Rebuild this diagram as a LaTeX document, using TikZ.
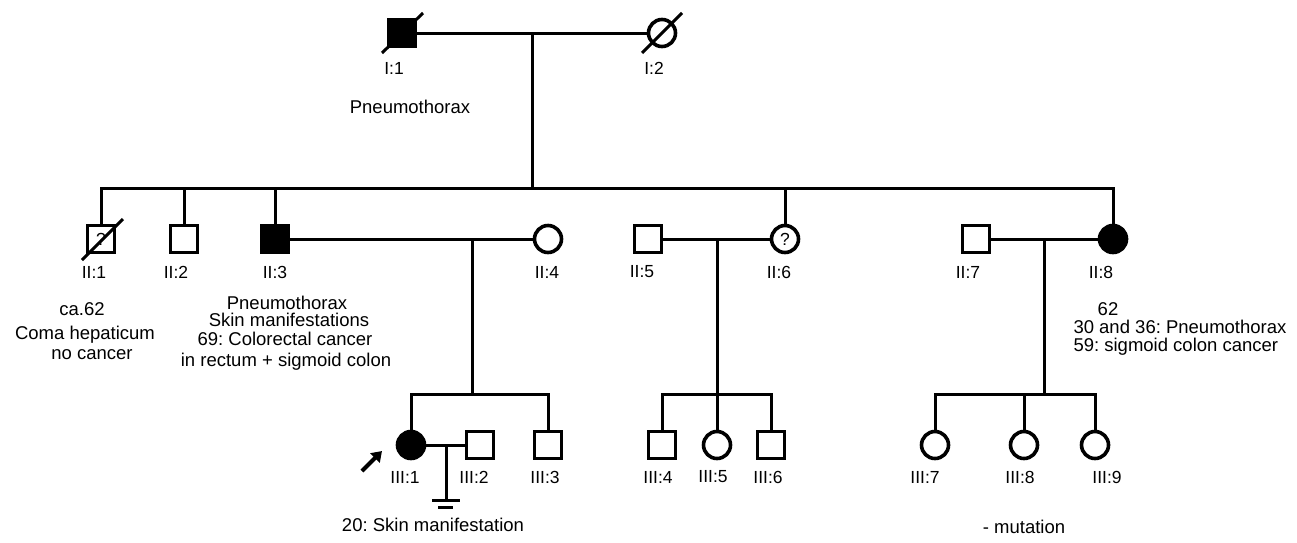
\documentclass[tikz,border=0pt]{standalone}
\usepackage{fontspec}
\setmainfont{Liberation Sans}
\usetikzlibrary{arrows.meta}
\frenchspacing
\begin{document}
\begin{tikzpicture}[x=1pt,y=-1pt,
  line width=3pt,
  ind/.style={draw,line width=3.6pt,minimum size=27pt,inner sep=0pt,fill=white,font=\fontsize{17.5}{17.5}\selectfont},
  male/.style={ind,rectangle},
  female/.style={ind,circle},
  aff/.style={fill=black},
  lab/.style={font=\fontsize{17.5}{17.5}\selectfont,inner sep=0pt},
  txt/.style={font=\fontsize{18.5}{19}\selectfont,inner sep=0pt},
  slash/.style={line width=3pt}]
\useasboundingbox (0,0) rectangle (1297,542);
% Generation I
\node[male,aff] (I1) at (402,33) {};
\node[female] (I2) at (662,33) {};
\draw[slash] ([shift={(-20,20)}]I1.center) -- ([shift={(21,-20)}]I1.center);
\draw[slash] ([shift={(-20,20)}]I2.center) -- ([shift={(20,-20)}]I2.center);
\node[lab] (lI1) at (394,68) {I:1};
\node[lab] (lI2) at (654,68) {I:2};
\node[txt] (tI1) at (410,107) {Pneumothorax};
\coordinate (m1) at (532,33);
\coordinate (s1) at (532,188);
\draw (I1) -- (I2);
\draw (m1) -- (s1);
% Generation II
\node[male] (II1) at (101,239) {?};
\node[male] (II2) at (184,239) {};
\node[male,aff] (II3) at (275,239) {};
\node[female] (II4) at (548,239) {};
\node[male] (II5) at (648,239) {};
\node[female] (II6) at (785,239) {?};
\node[male] (II7) at (976,239) {};
\node[female,aff] (II8) at (1113,239) {};
\draw[slash] ([shift={(-19,21)}]II1.center) -- ([shift={(22,-20)}]II1.center);
\draw (II1.north) -- (II1.north |- s1) -- (II8.north |- s1) -- (II8.north);
\draw (II2.north) -- (II2.north |- s1);
\draw (II3.north) -- (II3.north |- s1);
\draw (II6.north) -- (II6.north |- s1);
\draw (II3) -- (II4);
\draw (II5) -- (II6);
\draw (II7) -- (II8);
\node[lab] (lII1) at (94,272) {II:1};
\node[lab] (lII2) at (176,272) {II:2};
\node[lab] (lII3) at (275,272) {II:3};
\node[lab] (lII4) at (547,272) {II:4};
\node[lab] (lII5) at (642,272) {II:5};
\node[lab] (lII6) at (779,272) {II:6};
\node[lab] (lII7) at (968,272) {II:7};
\node[lab] (lII8) at (1101,272) {II:8};
\node[txt] (tII1a) at (82,309) {ca.62};
\node[txt] (tII1b) at (85,335) {Coma hepaticum};
\node[txt] (tII1c) at (92,355) {no cancer};
\node[txt] (tII3a) at (287,303) {Pneumothorax};
\node[txt] (tII3b) at (289,320) {Skin manifestations};
\node[txt] (tII3c) at (285,339) {69: Colorectal cancer};
\node[txt] (tII3d) at (286,362) {in rectum + sigmoid colon};
\node[txt] (tII8a) at (1108,309) {62};
\node[txt,anchor=base west,align=left,font=\fontsize{18.5}{17.5}\selectfont] (tII8b) at (1072,351) {30 and 36: Pneumothorax\\59: sigmoid colon cancer};
% descents
\coordinate (m2) at (472,239);
\coordinate (s2) at (472,394);
\coordinate (m3) at (717,239);
\coordinate (s3) at (717,394);
\coordinate (m4) at (1044,239);
\coordinate (s4) at (1044,394);
\draw (m2) -- (s2);
\draw (m3) -- (s3);
\draw (m4) -- (s4);
% Generation III
\node[female,aff] (III1) at (411,445) {};
\node[male] (III2) at (480,445) {};
\node[male] (III3) at (548,445) {};
\node[male] (III4) at (662,445) {};
\node[female] (III5) at (717,445) {};
\node[male] (III6) at (771,445) {};
\node[female] (III7) at (935,445) {};
\node[female] (III8) at (1024,445) {};
\node[female] (III9) at (1095,445) {};
\draw (III1.north) -- (III1.north |- s2) -- (III3.north |- s2) -- (III3.north);
\draw (III4.north) -- (III4.north |- s3) -- (III6.north |- s3) -- (III6.north);
\draw (III5.north) -- (III5.north |- s3);
\draw (III7.north) -- (III7.north |- s4) -- (III9.north |- s4) -- (III9.north);
\draw (III8.north) -- (III8.north |- s4);
\draw (III1) -- (III2);
\coordinate (m5) at (446,445);
\coordinate (n5) at (446,500);
\coordinate (b1) at (432,500);
\coordinate (b2) at (460,500);
\coordinate (b3) at (438,507);
\coordinate (b4) at (453,507);
\draw (m5) -- (n5);
\draw (b1) -- (b2);
\draw (b3) -- (b4);
\coordinate (a1) at (362,471);
\coordinate (a2) at (382,451);
\draw[line width=4.2pt,-{Triangle[length=10pt,width=13pt]}] (a1) -- (a2);
\node[lab] (lIII1) at (405,477) {III:1};
\node[lab] (lIII2) at (474,477) {III:2};
\node[lab] (lIII3) at (545,477) {III:3};
\node[lab] (lIII4) at (658,477) {III:4};
\node[lab] (lIII5) at (713,477) {III:5};
\node[lab] (lIII6) at (768,477) {III:6};
\node[lab] (lIII7) at (925,477) {III:7};
\node[lab] (lIII8) at (1020,477) {III:8};
\node[lab] (lIII9) at (1107,477) {III:9};
\node[txt] (tIII1) at (433,525) {20: Skin manifestation};
\node[txt] (tIII8) at (1024,527) {- mutation};
\end{tikzpicture}
\end{document}
